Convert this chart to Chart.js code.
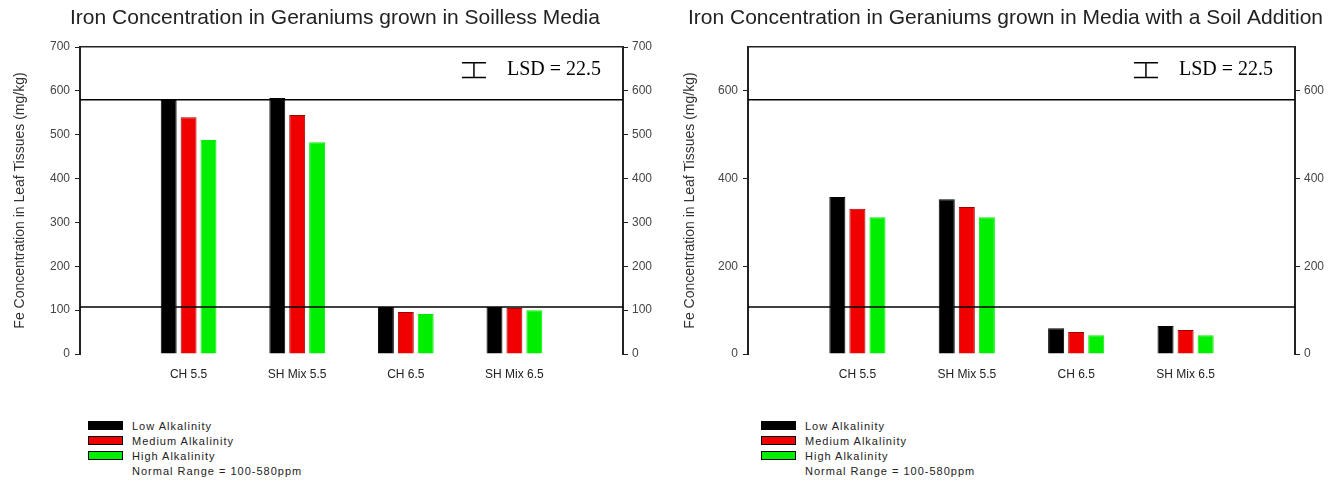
<!DOCTYPE html>
<html>
<head>
<meta charset="utf-8">
<script src="https://cdn.jsdelivr.net/npm/chart.js"></script>
<style>
  body { margin: 0; background: #fff; width: 1341px; height: 483px; overflow: hidden; position: relative; font-family: "Liberation Sans", Arial, sans-serif; }
  canvas { position: absolute; top: 0; }
  .legend { position: absolute; top: 421px; font-size: 11px; letter-spacing: 1px; color: #222; }
  .legend div { height: 15px; line-height: 11px; display: flex; align-items: flex-start; }
  .legend span.box { display: inline-block; width: 35px; height: 9px; margin-right: 9px; box-sizing: border-box; }
  .legend span.nobox { display: inline-block; width: 44px; }
</style>
</head>
<body>
<canvas id="soilless" width="670" height="410" style="left:0"></canvas>
<canvas id="soilAdd" width="671" height="410" style="left:670px"></canvas>
<div class="legend" id="legendLeft" style="left:88px"></div>
<div class="legend" id="legendRight" style="left:761px"></div>
<script>
// treatment groups along the x axis (empty slots keep the outer margins)
const categories = ['', 'CH 5.5', 'SH Mix 5.5', 'CH 6.5', 'SH Mix 6.5', ''];
const seriesNames = ['Low Alkalinity', 'Medium Alkalinity', 'High Alkalinity'];
const seriesColors = ['#000000', '#f00000', '#00ee00'];

// Fe (mg/kg), soilless media
const soillessLow = [579, 584, 107, 107];
const soillessMed = [540, 545, 96, 105];
const soillessHigh = [488, 483, 91, 100];

// Fe (mg/kg), media with a soil addition
const soilLow = [358, 353, 59, 64];
const soilMed = [331, 335, 50, 55];
const soilHigh = [312, 312, 43, 43];

const normalRange = [107, 580];
const normalRangeText = 'Normal Range = 100-580ppm';
const lsd = 22.5;

const leftTicks = [0, 100, 200, 300, 400, 500, 600, 700];
const rightTicks = [0, 200, 400, 600];

Chart.defaults.font.family = '"Liberation Sans", Arial, sans-serif';
Chart.defaults.color = '#222';
Chart.defaults.animation = false;

function pad(arr) {
  return [null, ...arr, null];
}

const lsdPlugin = {
  id: 'lsdMark',
  afterDraw(chart) {
    const { ctx, chartArea } = chart;
    const y = chart.scales.y;
    ctx.save();
    ctx.font = '20px "Liberation Serif", "Times New Roman", serif';
    ctx.fillStyle = '#000';
    ctx.textAlign = 'right';
    ctx.textBaseline = 'middle';
    const label = 'LSD = ' + lsd;
    const tx = chartArea.right - 22;
    const ty = chartArea.top + 23;
    ctx.fillText(label, tx, ty);
    const w = ctx.measureText(label).width;
    const cx = tx - w - 33;
    const h = (y.getPixelForValue(0) - y.getPixelForValue(lsd)) * 1.5;
    ctx.strokeStyle = '#000';
    ctx.lineWidth = 1.5;
    ctx.beginPath();
    ctx.moveTo(cx, ty - h / 2); ctx.lineTo(cx, ty + h / 2);
    ctx.moveTo(cx - 12, ty - h / 2); ctx.lineTo(cx + 12, ty - h / 2);
    ctx.moveTo(cx - 12, ty + h / 2); ctx.lineTo(cx + 12, ty + h / 2);
    ctx.stroke();
    ctx.restore();
  }
};

function makeChart(id, title, low, med, high, ticks, leftW, rightW) {
  const datasets = [low, med, high].map((vals, i) => ({
    label: seriesNames[i],
    data: pad(vals),
    backgroundColor: seriesColors[i],
    borderColor: i === 1 ? '#a00000' : seriesColors[i],
    borderWidth: 1,
    categoryPercentage: 0.55,
    barPercentage: 0.8,
    order: 2
  }));
  normalRange.forEach(v => {
    datasets.push({
      type: 'line',
      label: 'Normal Range',
      data: categories.map(() => v),
      borderColor: '#000',
      borderWidth: 1.5,
      pointRadius: 0,
      fill: false,
      order: 1
    });
  });
  const axisCommon = {
    min: 0, max: 700,
    border: { display: true, color: '#222', width: 2 },
    grid: { display: true, drawOnChartArea: false, drawTicks: true, tickLength: 5, color: '#222' },
    ticks: { font: { size: 12 }, color: '#444' },
    afterBuildTicks: s => { s.ticks = ticks.map(v => ({ value: v })); }
  };
  return new Chart(document.getElementById(id), {
    type: 'bar',
    data: { labels: categories, datasets },
    options: {
      responsive: false,
      layout: { padding: 0 },
      plugins: {
        legend: { display: false },
        tooltip: { enabled: false },
        title: {
          display: true, text: title, color: '#222',
          font: { size: 21, weight: 'normal', lineHeight: 1.05 },
          padding: { top: 7, bottom: 18 }
        }
      },
      scales: {
        x: {
          offset: false,
          grid: { display: false },
          border: { display: false },
          ticks: { padding: 5, font: { size: 12 }, color: '#222', maxRotation: 0, autoSkip: false },
          afterFit: s => { s.height = 56; }
        },
        xTop: {
          type: 'category', position: 'top', labels: categories, offset: false,
          grid: { display: false },
          border: { display: true, color: '#222', width: 1.5 },
          ticks: { display: false },
          afterFit: s => { s.height = 0; }
        },
        y: {
          ...axisCommon,
          position: 'left',
          ticks: { ...axisCommon.ticks, padding: 5 },
          title: {
            display: true, text: 'Fe Concentration in Leaf Tissues (mg/kg)',
            font: { size: 14 }, color: '#333', padding: { top: 12, bottom: 0 }
          },
          afterFit: s => { s.width = leftW; }
        },
        y2: {
          ...axisCommon,
          position: 'right',
          ticks: { ...axisCommon.ticks, padding: 4 },
          afterFit: s => { s.width = rightW; }
        }
      }
    },
    plugins: [lsdPlugin]
  });
}

makeChart('soilless', 'Iron Concentration in Geraniums grown in Soilless Media',
  soillessLow, soillessMed, soillessHigh, leftTicks, 80, 47);
makeChart('soilAdd', 'Iron Concentration in Geraniums grown in Media with a Soil Addition',
  soilLow, soilMed, soilHigh, rightTicks, 78, 46);

function buildLegend(el) {
  seriesNames.forEach((name, i) => {
    const row = document.createElement('div');
    const box = document.createElement('span');
    box.className = 'box';
    box.style.background = seriesColors[i];
    box.style.border = '1px solid #000';
    row.appendChild(box);
    row.appendChild(document.createTextNode(name));
    el.appendChild(row);
  });
  const row = document.createElement('div');
  const sp = document.createElement('span');
  sp.className = 'nobox';
  row.appendChild(sp);
  row.appendChild(document.createTextNode(normalRangeText));
  el.appendChild(row);
}
buildLegend(document.getElementById('legendLeft'));
buildLegend(document.getElementById('legendRight'));
</script>
</body>
</html>
